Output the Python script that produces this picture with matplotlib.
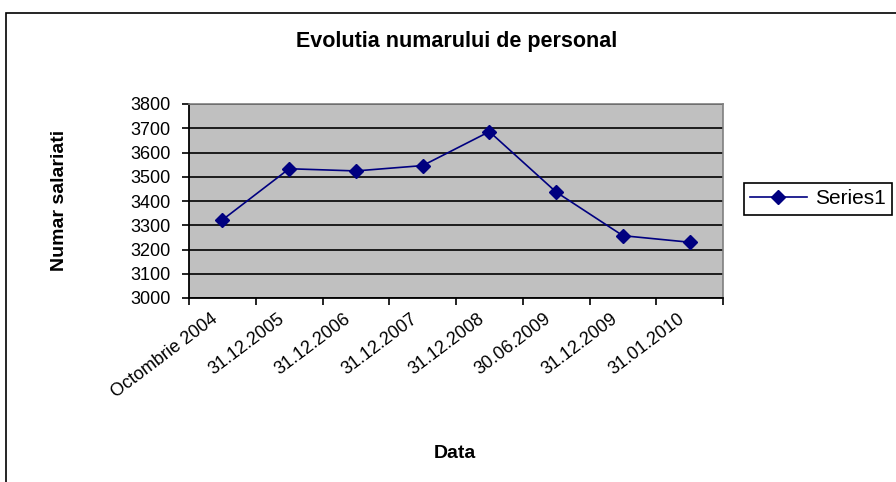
import numpy as np
import matplotlib as mpl
import matplotlib.pyplot as plt
from matplotlib.patches import Rectangle
from matplotlib.transforms import ScaledTranslation

mpl.use("agg")
plt.rcParams["font.family"] = ["Liberation Sans", "DejaVu Sans"]

# date
categorii = ["Octombrie 2004", "31.12.2005", "31.12.2006", "31.12.2007",
             "31.12.2008", "30.06.2009", "31.12.2009", "31.01.2010"]
salariati = [3322, 3533, 3524, 3546, 3686, 3437, 3257, 3230]
y_ticks = list(range(3000, 3801, 100))

fig = plt.figure(figsize=(8.96, 4.82), dpi=100)
# chenarul graficului (taiat la dreapta si jos)
fig.patches.append(Rectangle((5.5 / 896, -0.1), 1.2, 1 - 12.5 / 482 + 0.1,
                             transform=fig.transFigure, fill=False,
                             edgecolor="black", linewidth=1.2))

ax = fig.add_axes([189 / 896, 1 - 298 / 482, 534 / 896, 194 / 482])
ax.set_facecolor("#C0C0C0")
x = np.arange(len(categorii))
ax.plot(x, salariati, color="#000080", marker="D", markersize=7,
        linewidth=1.2, label="Series1")

ax.set_xlim(-0.5, len(categorii) - 0.5)
ax.set_ylim(3000, 3800)
ax.set_yticks(y_ticks)
ax.yaxis.grid(True, color="black", linewidth=1.2)
ax.set_axisbelow(True)

ax.set_xticks(np.arange(-0.5, len(categorii), 1.0))
ax.set_xticklabels([])
ax.set_xticks(x, minor=True)
ax.set_xticklabels(categorii, minor=True, rotation=37, ha="right",
                   rotation_mode="anchor", fontsize=13)
ax.tick_params(axis="x", which="minor", length=0, pad=9)
ax.tick_params(axis="x", which="major", length=5, width=1.2, direction="out")
ax.tick_params(axis="y", length=5, width=1.2, labelsize=13, pad=8)
dx = ScaledTranslation(-12 / 100, 0, fig.dpi_scale_trans)
for lbl in ax.get_xticklabels(minor=True):
    lbl.set_transform(lbl.get_transform() + dx)

for s in ["left", "bottom"]:
    ax.spines[s].set_linewidth(1.3)
    ax.spines[s].set_color("black")
for s in ["top", "right"]:
    ax.spines[s].set_color("#808080")
    ax.spines[s].set_linewidth(1.2)

fig.text(457 / 896, 1 - 41 / 482, "Evolutia numarului de personal",
         ha="center", va="center", fontsize=15.5, fontweight="bold")
fig.text(59 / 896, 1 - 200 / 482, "Numar salariati", rotation=90,
         ha="center", va="center", fontsize=14, fontweight="bold")
fig.text(455 / 896, 1 - 454 / 482, "Data", ha="center", va="center",
         fontsize=14, fontweight="bold")

leg = fig.legend(loc="upper left", bbox_to_anchor=(744 / 896, 1 - 183 / 482),
                 fontsize=15, fancybox=False, framealpha=1, edgecolor="black",
                 borderaxespad=0, handlelength=2.7, handletextpad=0.4,
                 borderpad=0.3)
leg.get_frame().set_linewidth(1.2)

fig.savefig("out.png", dpi=100)
